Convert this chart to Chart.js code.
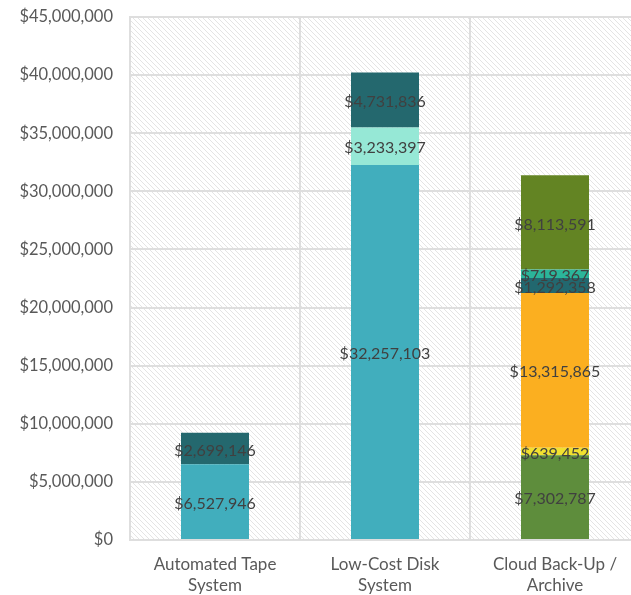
<!DOCTYPE html>
<html><head><meta charset="utf-8">
<script src="https://cdn.jsdelivr.net/npm/chart.js@4"></script>
<style>html,body{margin:0;padding:0;background:#fff;overflow:hidden;width:631px;height:595px}canvas{display:block}</style>
</head><body>
<canvas id="c" width="640" height="595"></canvas>
<script>
const categories = [["Automated Tape","System"],["Low-Cost Disk","System"],["Cloud Back-Up /","Archive"]];
const baseSystem   = [6527946, 32257103, null];
const diskExtra    = [null, 3233397, null];
const operations   = [2699146, 4731836, null];
const cloudBase    = [null, null, 7302787];
const cloudSmall   = [null, null, 639452];
const cloudMain    = [null, null, 13315865];
const cloudOps     = [null, null, 1292358];
const cloudExtra   = [null, null, 719367];
const cloudTop     = [null, null, 8113591];
const yTicks = [0,5000000,10000000,15000000,20000000,25000000,30000000,35000000,40000000,45000000];

const fmt = v => '$' + Math.round(v).toLocaleString('en-US');

function hatch(){
  const p = document.createElement('canvas'); p.width = 5; p.height = 5;
  const g = p.getContext('2d');
  g.fillStyle = '#ffffff'; g.fillRect(0,0,5,5);
  g.fillStyle = '#e4e4e4';
  for (let i=0;i<5;i++) g.fillRect(i,i,1,1);
  return document.createElement('canvas').getContext('2d').createPattern(p,'repeat');
}

const bgPlugin = {
  id:'bg',
  beforeDraw(chart){
    const {ctx, chartArea:a} = chart;
    ctx.save();
    ctx.fillStyle = hatch();
    ctx.fillRect(a.left, a.top, a.right-a.left, a.bottom-a.top);
    ctx.restore();
  }
};
const labelPlugin = {
  id:'lbl',
  afterDatasetsDraw(chart){
    const ctx = chart.ctx;
    ctx.save();
    ctx.font = '16px Lato';
    ctx.fillStyle = '#404040';
    ctx.textAlign = 'center';
    ctx.textBaseline = 'middle';
    chart.data.datasets.forEach((ds,i)=>{
      const meta = chart.getDatasetMeta(i);
      meta.data.forEach((el,j)=>{
        const v = ds.data[j];
        if (v == null) return;
        const p = el.getProps(['x','y','base'], true);
        ctx.fillText(fmt(v), p.x, (p.y+p.base)/2 + 2);
      });
    });
    ctx.restore();
  }
};

const mk = (data,color)=>({data, backgroundColor:color, borderWidth:0, barPercentage:0.4, categoryPercentage:1});

new Chart(document.getElementById('c'), {
  type:'bar',
  data:{
    labels: categories,
    datasets:[
      mk(baseSystem,'#41aebd'),
      mk(diskExtra,'#96e8d6'),
      mk(operations,'#24686e'),
      mk(cloudBase,'#5e8d3c'),
      mk(cloudSmall,'#f2e030'),
      mk(cloudMain,'#fbaf20'),
      mk(cloudOps,'#22686f'),
      mk(cloudExtra,'#2bb59a'),
      mk(cloudTop,'#638423')
    ]
  },
  options:{
    responsive:false, animation:false,
    layout:{padding:{top:17,right:0,left:0,bottom:0}},
    plugins:{legend:{display:false}, tooltip:{enabled:false}},
    scales:{
      x:{stacked:true,
        grid:{color:'#dedede', lineWidth:2, drawTicks:false, offset:true},
        border:{color:'#dedede', width:2},
        ticks:{color:'#595959', font:{family:'Lato', size:17, lineHeight:1.22}, padding:14, maxRotation:0, autoSkip:false},
        afterFit(s){ s.height = 55; s.paddingLeft = 0; s.paddingRight = 0; }
      },
      y:{stacked:true, min:0, max:45000000,
        grid:{color:'#dedede', lineWidth:2, drawTicks:false},
        border:{color:'#dedede', width:2},
        afterBuildTicks(s){ s.ticks = yTicks.map(v=>({value:v})); },
        ticks:{color:'#595959', font:{family:'Lato', size:16.5}, padding:17, callback:v=>fmt(v)},
        afterFit(s){ s.width = 130; s.paddingTop = 0; s.paddingBottom = 0; }
      }
    }
  },
  plugins:[bgPlugin,labelPlugin]
});
</script>
</body></html>
